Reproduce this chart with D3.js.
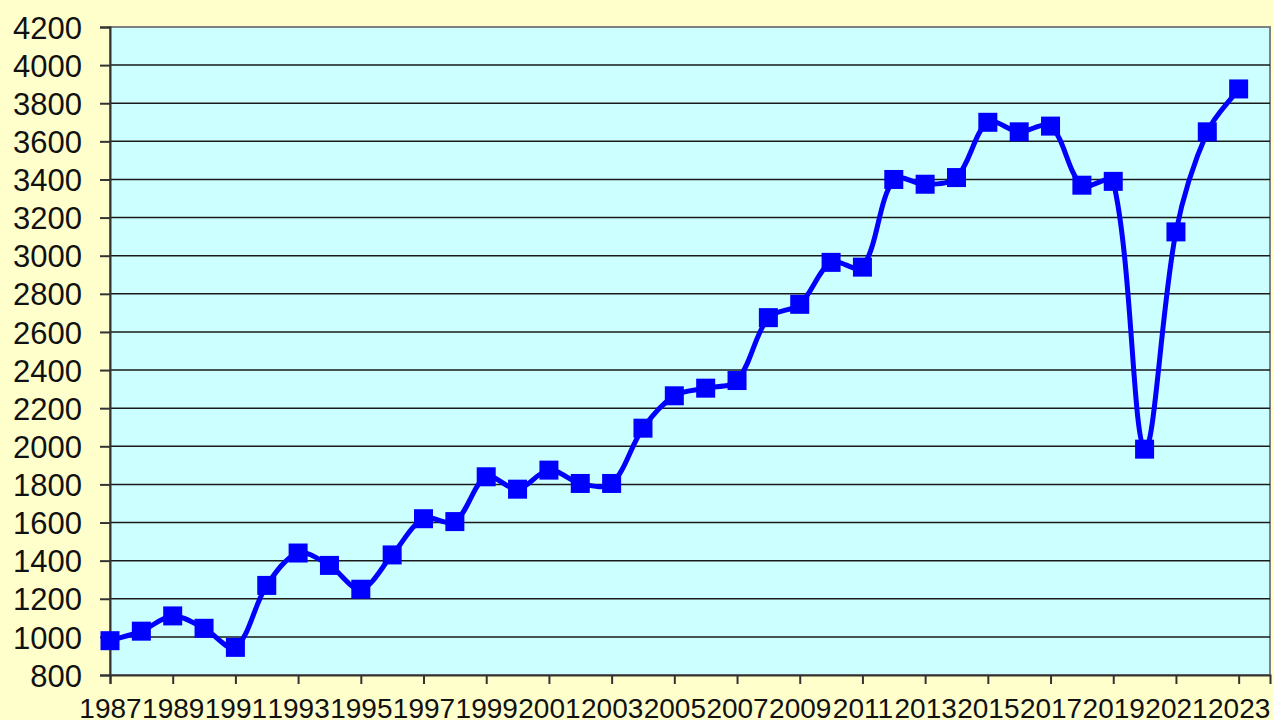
<!DOCTYPE html>
<html><head><meta charset="utf-8">
<script src="https://cdn.jsdelivr.net/npm/d3@7"></script>
<style>html,body{margin:0;padding:0;background:#FFFFCC;}svg{display:block;}</style>
</head><body>
<svg id="c" width="1274" height="720"></svg>
<script>
const years = d3.range(1987, 2024);
const values = [980,1030,1110,1045,945,1270,1440,1375,1250,1430,1620,1605,1840,1775,1875,1805,1805,2095,2265,2305,2345,2675,2745,2965,2940,3400,3375,3410,3700,3650,3680,3370,3390,1985,3125,3650,3875];
const yTicks = d3.range(800, 4201, 200);
const xTickYears = d3.range(1987, 2024, 2);

const svg = d3.select("#c");
const W = 1274, H = 720;
svg.append("rect").attr("width", W).attr("height", H).attr("fill", "#FFFFCC");
const L = 110, R = 1270, T = 27, B = 675;
const x = d3.scaleLinear().domain([1987, 2024]).range([L, R]);
const y = d3.scaleLinear().domain([800, 4200]).range([B, T]);

svg.append("rect").attr("x", L).attr("y", T).attr("width", R - L).attr("height", B - T)
  .attr("fill", "#CCFFFF").attr("stroke", "#808080").attr("stroke-width", 2);

// gridlines
svg.append("g").selectAll("line").data(yTicks.filter(d => d > 800 && d < 4200)).join("line")
  .attr("x1", L).attr("x2", R).attr("y1", d => y(d)).attr("y2", d => y(d))
  .attr("stroke", "#1a1a1a").attr("stroke-width", 1.5);

// y axis
const yAxis = d3.axisLeft(y).tickValues(yTicks).tickSize(10).tickPadding(18).tickFormat(d3.format("d"));
const gy = svg.append("g").attr("transform", `translate(${L},0)`).call(yAxis);
gy.select(".domain").attr("stroke", "#333").attr("stroke-width", 2);
gy.selectAll(".tick line").attr("stroke", "#333").attr("stroke-width", 2);
gy.selectAll("text").attr("font-family", "Liberation Sans, Arial, sans-serif").attr("font-size", 31).attr("fill", "#111").attr("dy", "0.36em");

// x axis
const xAxis = d3.axisBottom(x).tickValues(xTickYears).tickSize(9).tickPadding(0).tickFormat(d3.format("d"));
const gx = svg.append("g").attr("transform", `translate(0,${B})`).call(xAxis);
gx.select(".domain").attr("stroke", "#333").attr("stroke-width", 2);
gx.selectAll(".tick line").attr("stroke", "#333").attr("stroke-width", 2);
gx.selectAll("text").attr("font-family", "Liberation Sans, Arial, sans-serif").attr("font-size", 28).attr("fill", "#111")
  .attr("dy", null).attr("y", 43);

// smoothed line (chord-scaled Catmull-Rom Bezier, Excel-like)
const pts = years.map((yr, i) => [x(yr), y(values[i])]);
const dist = (a, b) => Math.hypot(b[0] - a[0], b[1] - a[1]);
const path = d3.path();
path.moveTo(pts[0][0], pts[0][1]);
for (let i = 0; i < pts.length - 1; i++) {
  const p0 = pts[Math.max(0, i - 1)], p1 = pts[i], p2 = pts[i + 1], p3 = pts[Math.min(pts.length - 1, i + 2)];
  const d01 = dist(p0, p1), d12 = dist(p1, p2), d23 = dist(p2, p3);
  const k1 = d12 / (d01 + d12) / 3, k2 = d12 / (d12 + d23) / 3;
  const c1 = [p1[0] + (p2[0] - p0[0]) * k1, p1[1] + (p2[1] - p0[1]) * k1];
  const c2 = [p2[0] - (p3[0] - p1[0]) * k2, p2[1] - (p3[1] - p1[1]) * k2];
  path.bezierCurveTo(c1[0], c1[1], c2[0], c2[1], p2[0], p2[1]);
}
svg.append("path").attr("d", path.toString()).attr("fill", "none").attr("stroke", "#0000FF").attr("stroke-width", 5).attr("stroke-linejoin", "round");

const s = 19;
svg.append("g").selectAll("rect").data(years).join("rect")
  .attr("x", (d) => x(d) - s / 2).attr("y", (d, i) => y(values[i]) - s / 2).attr("width", s).attr("height", s)
  .attr("fill", "#0000FF");
</script>
</body></html>
